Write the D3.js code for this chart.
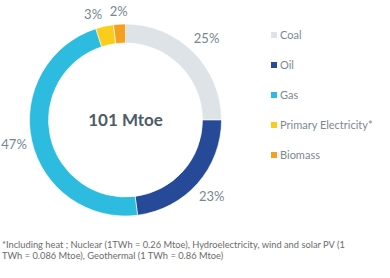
<!DOCTYPE html>
<html lang="en">
<head>
<meta charset="UTF-8">
<title>Energy mix donut</title>
<script src="https://cdn.jsdelivr.net/npm/d3@7"></script>
<style>
    body { margin: 0; background: #fff; }
    text { font-family: Lato, "Open Sans", sans-serif; }
</style>
</head>
<body>
<script>
    // data
    const categories = ["Coal", "Oil", "Gas", "Primary Electricity*", "Biomass"];
    const shares = [25, 23, 47, 3, 2];
    const colors = ["#dde3e6", "#264a97", "#2dbbe0", "#f9cd1b", "#f4a020"];
    const totalLabel = "101 Mtoe";
    const footnote = [
        "*Including heat ; Nuclear (1TWh = 0.26 Mtoe), Hydroelectricity, wind and solar PV (1",
        "TWh = 0.086 Mtoe), Geothermal (1 TWh = 0.86 Mtoe)"
    ];

    const width = 390, height = 278;
    const cx = 125.5, cy = 120;
    const rOuter = 96, rInner = 77;

    const svg = d3.select("body").append("svg")
        .attr("width", width).attr("height", height);

    const pie = d3.pie().sort(null).value(d => d.v);
    const arcs = pie(categories.map((c, i) => ({ name: c, v: shares[i], color: colors[i] })));

    const arc = d3.arc().innerRadius(rInner).outerRadius(rOuter);

    const g = svg.append("g").attr("transform", `translate(${cx},${cy})`);

    g.selectAll("path")
        .data(arcs)
        .enter().append("path")
        .attr("d", arc)
        .attr("fill", d => d.data.color)
        .attr("stroke", "#fff")
        .attr("stroke-width", 0.6);

    // percentage labels, placed just outside the ring
    const labels = g.selectAll("text.pct")
        .data(arcs)
        .enter().append("text")
        .attr("class", "pct")
        .attr("text-anchor", "middle")
        .attr("dy", "0.35em")
        .style("font-size", "13px")
        .style("fill", "#76868f")
        .text(d => d.data.v + "%");

    function place(node, a) {
        const bb = node.getBBox();
        const s = Math.sin(a), c = Math.cos(a);
        const r = 100 + (bb.width / 2) * Math.abs(s) + (bb.height / 2) * Math.abs(c);
        return { x: r * s, y: -r * c, w: bb.width, h: bb.height };
    }

    const pos = [];
    labels.each(function (d) {
        pos.push({ node: this, a: (d.startAngle + d.endAngle) / 2 });
    });
    pos.forEach(p => Object.assign(p, place(p.node, p.a)));

    // push a label back along the ring if it overlaps the next one (like Excel does)
    for (let i = pos.length - 2; i >= 0; i--) {
        const p = pos[i], q = pos[i + 1];
        let guard = 0;
        while (Math.abs(p.x - q.x) < (p.w + q.w) / 2 + 7 && Math.abs(p.y - q.y) < (p.h + q.h) / 2 && guard < 200) {
            p.a -= Math.PI / 360;
            Object.assign(p, place(p.node, p.a));
            guard++;
        }
    }
    pos.forEach(p => d3.select(p.node).attr("x", p.x).attr("y", p.y));

    g.append("text")
        .attr("text-anchor", "middle")
        .attr("dy", "0.35em")
        .style("font-size", "17px")
        .style("font-weight", "bold")
        .style("fill", "#4d5c66")
        .text(totalLabel);

    // legend
    const legend = svg.append("g").attr("transform", "translate(271,35)");
    const rows = legend.selectAll("g")
        .data(categories)
        .enter().append("g")
        .attr("transform", (d, i) => `translate(0,${i * 30})`);
    rows.append("rect")
        .attr("x", 0).attr("y", -3)
        .attr("width", 6).attr("height", 6)
        .attr("fill", (d, i) => colors[i]);
    rows.append("text")
        .attr("x", 9)
        .attr("dy", "0.35em")
        .style("font-size", "11px")
        .style("fill", "#7b8990")
        .text(d => d);

    // footnote
    svg.selectAll("text.note")
        .data(footnote)
        .enter().append("text")
        .attr("class", "note")
        .attr("x", 2)
        .attr("y", (d, i) => 245 + i * 10.5)
        .attr("dy", "0.35em")
        .style("font-size", "9.3px")
        .style("fill", "#6b6b6b")
        .text(d => d);
</script>
</body>
</html>
